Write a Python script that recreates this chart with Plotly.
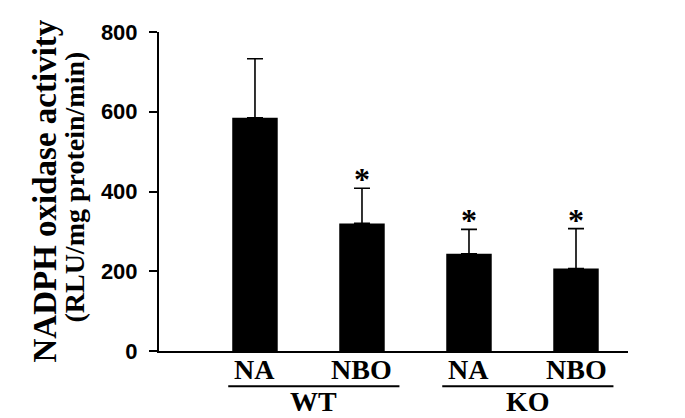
import plotly.graph_objects as go

# values
groups = ["WT", "WT", "KO", "KO"]
treatments = ["NA", "NBO", "NA", "NBO"]
activity = [585, 320, 244, 207]
activity_err = [148, 88, 61, 100]
significant = [False, True, True, True]
y_ticks = [0, 200, 400, 600, 800]

x_pos = list(range(len(activity)))

# the page body has an 8px margin, so the figure is made 8px smaller
OFF = 8
W, H = 685 - OFF, 418 - OFF
M_L, M_R, M_T, M_B = 151, 57, 17, 67
plot_h = H - M_T - M_B
plot_w = W - M_L - M_R


def py_to_paper(py):
    """window pixel row -> paper y"""
    return (H - M_B - (py - OFF)) / plot_h


def px_to_paper(px):
    """window pixel column -> paper x"""
    return (px - OFF - M_L) / plot_w


serif_bold = dict(family="Liberation Serif, Times New Roman, serif", color="black", weight="bold")

fig = go.Figure()
fig.add_trace(go.Bar(
    x=x_pos,
    y=activity,
    width=0.425,
    marker=dict(color="black", line=dict(width=0)),
    error_y=dict(type="data", array=activity_err, arrayminus=[0] * len(activity_err),
                 symmetric=False, color="black", thickness=1.6, width=8),
    showlegend=False,
))

annotations = []

# significance stars above error bars
for x, v, e, sig in zip(x_pos, activity, activity_err, significant):
    if sig:
        annotations.append(dict(x=x, y=v + e, xref="x", yref="y", text="*", showarrow=False,
                                yanchor="middle", yshift=9, font=dict(size=32, **serif_bold)))

# treatment labels under bars
for x, t in zip(x_pos, treatments):
    annotations.append(dict(x=x, y=py_to_paper(370), xref="x", yref="paper", text=t, showarrow=False,
                            yanchor="middle", font=dict(size=28, **serif_bold)))

# group labels with underline
shapes = []
group_names = list(dict.fromkeys(groups))
for g in group_names:
    idx = [i for i, gg in enumerate(groups) if gg == g]
    x0, x1 = x_pos[idx[0]] - 0.25, x_pos[idx[-1]] + 0.35
    shapes.append(dict(type="line", xref="x", yref="paper", x0=x0, x1=x1,
                       y0=py_to_paper(387), y1=py_to_paper(387), line=dict(color="black", width=2)))
    annotations.append(dict(x=(x0 + x1) / 2, y=py_to_paper(403), xref="x", yref="paper", text=g,
                            showarrow=False, yanchor="middle", font=dict(size=28, **serif_bold)))

# y-axis title (two lines, different sizes)
annotations.append(dict(x=px_to_paper(44), y=py_to_paper(188), xref="paper", yref="paper",
                        text="NADPH oxidase activity", textangle=-90, showarrow=False,
                        xanchor="center", yanchor="middle", font=dict(size=33, **serif_bold)))
annotations.append(dict(x=px_to_paper(75), y=py_to_paper(184), xref="paper", yref="paper",
                        text="(RLU/mg protein/min)", textangle=-90, showarrow=False,
                        xanchor="center", yanchor="middle", font=dict(size=28, **serif_bold)))

fig.update_layout(
    width=W, height=H,
    margin=dict(l=M_L, r=M_R, t=M_T, b=M_B),
    plot_bgcolor="white", paper_bgcolor="white",
    xaxis=dict(range=[-0.897, 3.486], showline=True, linewidth=2, linecolor="black",
               showticklabels=False, ticks="", showgrid=False, zeroline=False, fixedrange=True),
    yaxis=dict(range=[0, 800], tickvals=y_ticks, ticks="outside", ticklen=8, tickwidth=2,
               tickcolor="black", showline=True, linewidth=2, linecolor="black",
               showgrid=False, zeroline=False, ticklabelstandoff=7,
               tickfont=dict(family="Liberation Sans, Arial, sans-serif", size=22, color="black", weight="bold")),
    annotations=annotations,
    shapes=shapes,
)

fig.write_html("out.html")
